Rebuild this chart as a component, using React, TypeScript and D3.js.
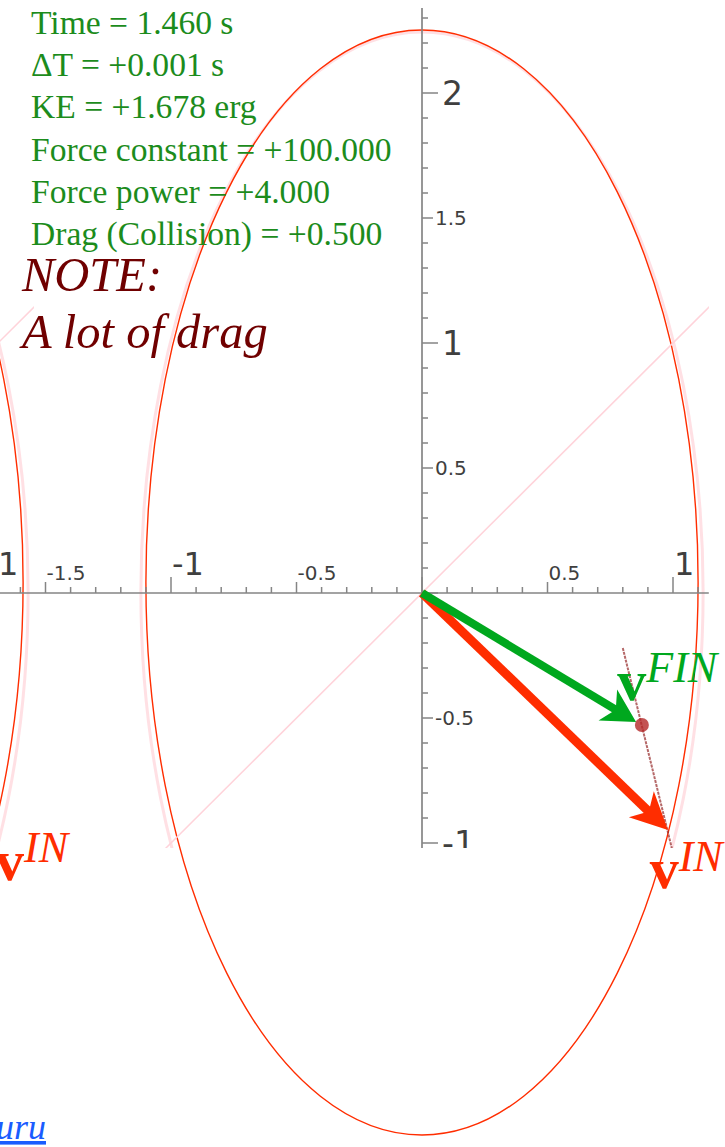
import React from 'react';
import * as d3 from 'd3';

// readout texts
const infoLines = [
  'Time = 1.460 s',
  'ΔT = +0.001 s',
  'KE = +1.678 erg',
  'Force constant = +100.000',
  'Force power = +4.000',
  'Drag (Collision) = +0.500',
];
const noteLines = ['NOTE:', 'A lot of drag'];

// axes
const xDomain = [-1.7, 1.143];
const yDomain = [-1.02, 2.34];
const xLabels = [-1.5, -1, -0.5, 0.5, 1];
const yLabels = [2, 1.5, 1, 0.5, -0.5, -1];

// orbit (red), trail (pink) in data units
const orbit = { cx: 0, cy: 0.042, rx: 1.1, ry: 2.21 };
const trail = { cx: 0, cy: 0.004, rx: 1.12, ry: 2.24 };
const diagonal = [[-1.1, -1.1], [1.3, 1.3]];
const tangent = [[0.8, -0.22], [1.0, -1.04]];
const particle = [0.876, -0.528];

// velocity vectors
const vFin = [0.853, -0.516];
const vIn = [0.98, -0.948];
const vFinLabel = [0.778, -0.426];
const vInLabel = [0.907, -1.18];
const leftVInLabel = [-1.701, -1.148]; // label of the neighbouring panel

const panelShift = -675;

const green = '#00a81e';
const red = '#ff2d00';
const axisGray = '#858585';
const labelGray = '#3f3f3f';

const x = d3.scaleLinear().domain([-1, 1]).range([171, 673]);
const y = d3.scaleLinear().domain([-1, 2]).range([843, 93]);

const minorX = d3.range(-17, 12).map(i => i / 10);
const minorY = d3.range(-10, 24).map(i => i / 10);

const tickLen = (v: number) => {
  const r = Math.round(v * 10);
  if (r % 10 === 0) return 16;
  if (r % 5 === 0) return 11;
  return 6;
};

const arrowPath = (tip: number[], len: number, half: number) => {
  const x0 = x(0), y0 = y(0);
  const x1 = x(tip[0]), y1 = y(tip[1]);
  const dx = x1 - x0, dy = y1 - y0;
  const d = Math.hypot(dx, dy);
  const ux = dx / d, uy = dy / d;
  const nx = -uy, ny = ux;
  const bx = x1 - ux * len, by = y1 - uy * len;
  const notchX = x1 - ux * len * 0.72, notchY = y1 - uy * len * 0.72;
  return {
    shaft: `M${x0},${y0}L${notchX + ux * 2},${notchY + uy * 2}`,
    head: `M${x1},${y1}L${bx + nx * half},${by + ny * half}L${notchX},${notchY}L${bx - nx * half},${by - ny * half}Z`,
  };
};

const line = d3.line<number[]>().x(d => x(d[0])).y(d => y(d[1]));

const Orbit = () => (
  <g>
    <ellipse
      cx={x(trail.cx)} cy={y(trail.cy)}
      rx={x(trail.rx) - x(0)} ry={y(0) - y(trail.ry)}
      fill="none" stroke="rgba(255,60,90,0.16)" strokeWidth={3}
      clipPath="url(#plotClip)"
    />
    <ellipse
      cx={x(orbit.cx)} cy={y(orbit.cy)}
      rx={x(orbit.rx) - x(0)} ry={y(0) - y(orbit.ry)}
      fill="none" stroke={red} strokeWidth={1.4}
    />
    <path d={line(diagonal as any) || ''} stroke="#ffd3da" strokeWidth={1.5} fill="none" clipPath="url(#plotClip)" />
  </g>
);

const App = () => {
  const g = arrowPath(vFin, 33, 18);
  const r = arrowPath(vIn, 37, 18);
  return (
    <div style={{ position: 'absolute', left: 0, top: 0 }}>
      <svg width={725} height={1147} viewBox="0 0 725 1147" style={{ display: 'block' }}>
        <defs>
          <clipPath id="plotClip">
            <rect x={x(xDomain[0])} y={y(yDomain[1])} width={x(xDomain[1]) - x(xDomain[0])} height={y(yDomain[0]) - y(yDomain[1])} />
          </clipPath>
        </defs>
        <rect width={725} height={1147} fill="#fff" />

        {/* neighbouring panel, cut off at the left */}
        <g transform={`translate(${panelShift},0)`}>
          <Orbit />
          <text x={x(1)} y={y(0) - 18} fontFamily="DejaVu Sans" fontSize={32} fill={labelGray}>1</text>
        </g>
        <text x={x(leftVInLabel[0])} y={y(leftVInLabel[1])} fontFamily="Liberation Serif" fill={red}>
          <tspan fontWeight="bold" fontSize={58}>v</tspan>
          <tspan fontStyle="italic" fontSize={44} dy={-18}>IN</tspan>
        </text>

        <Orbit />

        {/* axes */}
        <g clipPath="url(#plotClip)">
          <line x1={0} x2={x(xDomain[1])} y1={y(0)} y2={y(0)} stroke={axisGray} strokeWidth={1.7} />
          <line x1={x(0)} x2={x(0)} y1={y(yDomain[1])} y2={y(yDomain[0])} stroke={axisGray} strokeWidth={1.7} />
          {minorX.map(v => (
            <line key={`xt${v}`} x1={x(v)} x2={x(v)} y1={y(0)} y2={y(0) - tickLen(v)} stroke={axisGray} strokeWidth={1.5} />
          ))}
          {minorY.map(v => (
            <line key={`yt${v}`} x1={x(0)} x2={x(0) + tickLen(v)} y1={y(v)} y2={y(v)} stroke={axisGray} strokeWidth={1.5} />
          ))}
          {xLabels.map(v => (
            <text key={`xl${v}`} x={x(v) + 1} y={y(0) - tickLen(v) - 2} fontFamily="DejaVu Sans"
              fontSize={Number.isInteger(v) ? 32 : 20} fill={labelGray}>{v}</text>
          ))}
          {yLabels.map(v => (
            <text key={`yl${v}`} x={x(0) + tickLen(v) + (Number.isInteger(v) ? 4 : 2)} y={y(v)} dy="0.36em"
              fontFamily="DejaVu Sans" fontSize={Number.isInteger(v) ? 33 : 20} fill={labelGray}>{v}</text>
          ))}
        </g>

        {/* tangent of the path at the particle */}
        <path d={line(tangent as any) || ''} stroke="rgba(150,40,40,0.7)" strokeWidth={2} strokeDasharray="3 1" fill="none" clipPath="url(#plotClip)" />

        {/* velocity arrows */}
        <path d={r.shaft} stroke={red} strokeWidth={9} fill="none" />
        <path d={r.head} fill={red} />
        <path d={g.shaft} stroke={green} strokeWidth={8} fill="none" />
        <path d={g.head} fill={green} />
        <circle cx={x(particle[0])} cy={y(particle[1])} r={7} fill="rgba(180,40,40,0.8)" />

        <text x={x(vFinLabel[0])} y={y(vFinLabel[1])} fontFamily="Liberation Serif" fill={green}>
          <tspan fontWeight="bold" fontSize={58}>v</tspan>
          <tspan fontStyle="italic" fontSize={44} dy={-18}>FIN</tspan>
        </text>
        <text x={x(vInLabel[0])} y={y(vInLabel[1])} fontFamily="Liberation Serif" fill={red}>
          <tspan fontWeight="bold" fontSize={58}>v</tspan>
          <tspan fontStyle="italic" fontSize={44} dy={-17}>IN</tspan>
        </text>

        {/* readouts */}
        {infoLines.map((t, i) => (
          <text key={t} x={31} y={34 + i * 42.2} fontFamily="Liberation Serif" fontSize={33.6} fill="#1c8c1c">{t}</text>
        ))}
        {noteLines.map((t, i) => (
          <text key={t} x={22} y={291 + i * 57} fontFamily="Liberation Serif" fontStyle="italic" fontSize={48.5} fill="#700000">{t}</text>
        ))}

        <text x={46} y={1139} textAnchor="end" fontFamily="Liberation Serif" fontStyle="italic" fontSize={36}
          fill="#1a5cff" textDecoration="underline">Guru</text>
      </svg>
    </div>
  );
};

export default App;
